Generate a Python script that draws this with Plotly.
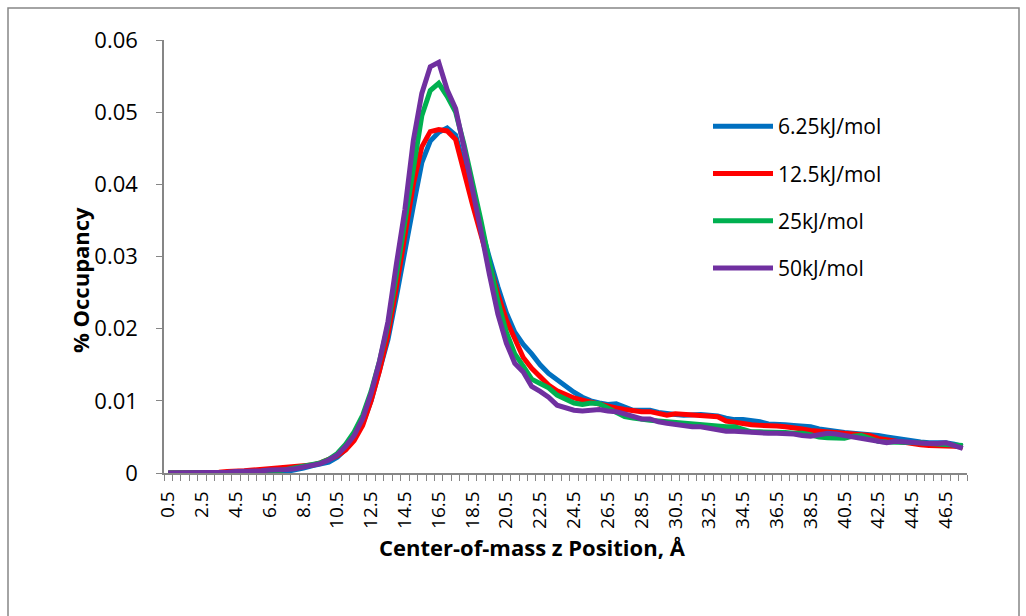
import plotly.graph_objects as go

# Center-of-mass z position bins (Å), 0.5 Å spacing
z_pos = [0.5 * k for k in range(1, 96)]

# Occupancy profiles for each restraint strength
occ_625 = [
    0, 0, 0, 0, 0, 0, 0, 0, 0, 0,
    0, 0, 0, 0.0001, 0.0002, 0.0004, 0.0007, 0.0010, 0.0012, 0.0015,
    0.0022, 0.0033, 0.0048, 0.0068, 0.0100, 0.0140, 0.0185, 0.0245, 0.0310, 0.0370,
    0.0430, 0.0460, 0.0472, 0.0478, 0.0468, 0.0425, 0.0380, 0.0338, 0.0298, 0.0258,
    0.0222, 0.0195, 0.0178, 0.0165, 0.0150, 0.0138, 0.0129, 0.0119, 0.0112, 0.0105,
    0.0100, 0.0097, 0.0095, 0.0096, 0.0092, 0.0087, 0.0087, 0.0087, 0.0084, 0.0082,
    0.0081, 0.0080, 0.0081, 0.0081, 0.0080, 0.0079, 0.0076, 0.0074, 0.0074, 0.0073,
    0.0071, 0.0068, 0.0068, 0.0067, 0.0066, 0.0065, 0.0064, 0.0061, 0.0059, 0.0057,
    0.0056, 0.0055, 0.0054, 0.0054, 0.0052, 0.0050, 0.0048, 0.0046, 0.0044, 0.0043,
    0.0042, 0.0042, 0.0042, 0.0040, 0.0037,
]
occ_125 = [
    0, 0, 0, 0, 0.0001, 0.0001, 0.0001, 0.0002, 0.0002, 0.0003,
    0.0004, 0.0005, 0.0006, 0.0006, 0.0007, 0.0008, 0.0009, 0.0011, 0.0014, 0.0019,
    0.0024, 0.0032, 0.0045, 0.0066, 0.0100, 0.0142, 0.0192, 0.0258, 0.0330, 0.0400,
    0.0452, 0.0473, 0.0476, 0.0474, 0.0462, 0.0415, 0.0372, 0.0330, 0.0288, 0.0248,
    0.0212, 0.0184, 0.0160, 0.0145, 0.0133, 0.0122, 0.0114, 0.0109, 0.0104, 0.0101,
    0.0098, 0.0095, 0.0092, 0.0090, 0.0088, 0.0086, 0.0085, 0.0085, 0.0082, 0.0080,
    0.0082, 0.0081, 0.0080, 0.0080, 0.0079, 0.0078, 0.0072, 0.0070, 0.0068, 0.0067,
    0.0066, 0.0066, 0.0065, 0.0064, 0.0063, 0.0061, 0.0059, 0.0058, 0.0057, 0.0056,
    0.0055, 0.0055, 0.0054, 0.0052, 0.0048, 0.0046, 0.0045, 0.0043, 0.0040, 0.0039,
    0.0038, 0.0038, 0.0038, 0.0037, 0.0036,
]
occ_25 = [
    0, 0, 0, 0, 0.0001, 0.0001, 0.0001, 0.0001, 0.0001, 0.0001,
    0.0001, 0.0002, 0.0002, 0.0003, 0.0005, 0.0007, 0.0009, 0.0011, 0.0014, 0.0019,
    0.0027, 0.0040, 0.0057, 0.0080, 0.0113, 0.0155, 0.0205, 0.0275, 0.0345, 0.0425,
    0.0495, 0.0530, 0.0540, 0.0522, 0.0500, 0.0455, 0.0405, 0.0350, 0.0292, 0.0238,
    0.0195, 0.0165, 0.0148, 0.0130, 0.0124, 0.0118, 0.0108, 0.0102, 0.0097, 0.0095,
    0.0097, 0.0096, 0.0090, 0.0083, 0.0078, 0.0076, 0.0074, 0.0073, 0.0072, 0.0071,
    0.0070, 0.0068, 0.0067, 0.0066, 0.0066, 0.0065, 0.0064, 0.0064, 0.0060, 0.0057,
    0.0057, 0.0057, 0.0056, 0.0056, 0.0055, 0.0055, 0.0053, 0.0050, 0.0049, 0.0048,
    0.0048, 0.0051, 0.0052, 0.0048, 0.0044, 0.0043, 0.0043, 0.0043, 0.0043, 0.0042,
    0.0041, 0.0040, 0.0040, 0.0039, 0.0038,
]
occ_50 = [
    0, 0, 0, 0, 0.0001, 0.0001, 0.0001, 0.0001, 0.0002, 0.0002,
    0.0003, 0.0003, 0.0004, 0.0004, 0.0005, 0.0006, 0.0008, 0.0010, 0.0013, 0.0018,
    0.0025, 0.0037, 0.0052, 0.0075, 0.0110, 0.0155, 0.0210, 0.0290, 0.0365, 0.0461,
    0.0526, 0.0563, 0.0569, 0.0531, 0.0505, 0.0450, 0.0395, 0.0335, 0.0275, 0.0220,
    0.0180, 0.0152, 0.0140, 0.0120, 0.0113, 0.0105, 0.0094, 0.0090, 0.0087, 0.0086,
    0.0087, 0.0088, 0.0086, 0.0085, 0.0082, 0.0079, 0.0075, 0.0075, 0.0071, 0.0069,
    0.0067, 0.0065, 0.0064, 0.0064, 0.0062, 0.0060, 0.0058, 0.0058, 0.0057, 0.0057,
    0.0056, 0.0055, 0.0055, 0.0055, 0.0054, 0.0052, 0.0051, 0.0053, 0.0055, 0.0054,
    0.0052, 0.0050, 0.0047, 0.0045, 0.0043, 0.0042, 0.0044, 0.0043, 0.0042, 0.0042,
    0.0041, 0.0041, 0.0042, 0.0038, 0.0034,
]

series_names = ["6.25kJ/mol", "12.5kJ/mol", "25kJ/mol", "50kJ/mol"]
series_colors = ["#0070C0", "#FF0000", "#00B050", "#7030A0"]
series_values = [occ_625, occ_125, occ_25, occ_50]

# Labelled ticks every 2 Å
tick_vals = z_pos[::4]
tick_text = [f"{v:g}" for v in tick_vals]

FONT = "Open Sans"
AXIS_GRAY = "#868686"
Y_TICK_SIZE = 22
X_TICK_SIZE = 19
TITLE_SIZE = 22

fig = go.Figure()
for name, color, vals in zip(series_names, series_colors, series_values):
    assert len(vals) == len(z_pos)
    fig.add_trace(go.Scatter(
        x=z_pos, y=vals, mode="lines", name=name, legendgroup=name,
        line=dict(color=color, width=5),
    ))

# Figure layout: plot area spans 164..967 px horizontally, 40..473 px vertically
L, R, T, B = 164, 59, 40, 143
W, H = 1026, 616
pw, ph = W - L - R, H - T - B


def px_x(px):
    return (px - L) / pw


def px_y(py):
    return (H - B - py) / ph


fig.update_layout(
    width=W, height=H,
    margin=dict(l=L, r=R, t=T, b=B),
    paper_bgcolor="white", plot_bgcolor="white",
    font=dict(family=FONT, size=Y_TICK_SIZE, color="black"),
    showlegend=True,
    legend=dict(
        x=px_x(708), y=px_y(106), xanchor="left", yanchor="top",
        font=dict(family=FONT, size=21), tracegroupgap=17,
        bgcolor="rgba(0,0,0,0)", itemwidth=60,
    ),
    xaxis=dict(
        range=[0.25, 47.75], showgrid=False, zeroline=False,
        showline=True, linecolor=AXIS_GRAY, linewidth=1.5,
        tickmode="array", tickvals=tick_vals, ticktext=tick_text,
        tickangle=-90, ticks="", ticklabelstandoff=9,
        tickfont=dict(family=FONT, size=X_TICK_SIZE),
        minor=dict(tickmode="linear", tick0=0.25, dtick=0.5, ticks="outside",
                   ticklen=6, tickcolor=AXIS_GRAY, tickwidth=1, showgrid=False),
    ),
    yaxis=dict(
        range=[0, 0.06], dtick=0.01, showgrid=False, zeroline=False,
        showline=True, linecolor=AXIS_GRAY, linewidth=1.5,
        ticks="outside", ticklen=6, tickcolor=AXIS_GRAY,
        ticklabelstandoff=14, tickfont=dict(family=FONT, size=Y_TICK_SIZE),
    ),
    annotations=[
        dict(text="<b>% Occupancy</b>", xref="paper", yref="paper",
             x=px_x(63), y=px_y(280), textangle=-90, showarrow=False,
             font=dict(family=FONT, size=TITLE_SIZE)),
        dict(text="<b>Center-of-mass z Position, Å</b>", xref="paper", yref="paper",
             x=px_x(532), y=px_y(564), showarrow=False,
             font=dict(family=FONT, size=TITLE_SIZE)),
    ],
    shapes=[
        dict(type="rect", xref="paper", yref="paper",
             x0=px_x(8), x1=px_x(1019), y0=px_y(8), y1=px_y(640),
             line=dict(color=AXIS_GRAY, width=1.5), layer="below"),
    ],
)

fig.write_html("out.html")
